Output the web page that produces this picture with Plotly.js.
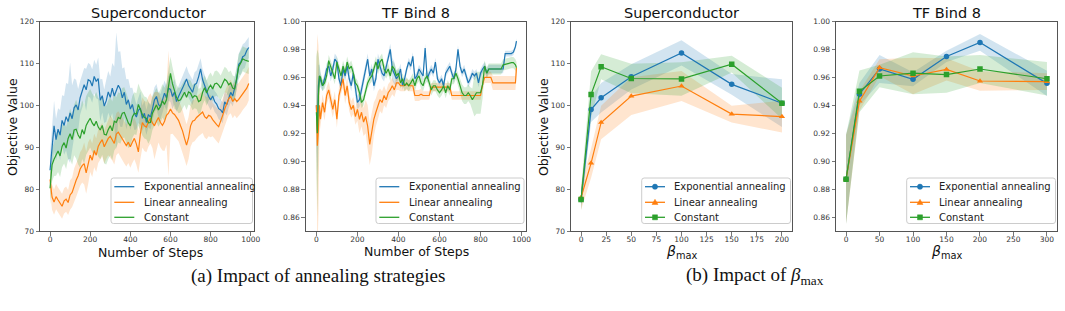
<!DOCTYPE html>
<html>
<head>
<meta charset="utf-8">
<script src="https://cdn.plot.ly/plotly-3.0.1.min.js"></script>
<style>html,body{margin:0;padding:0;background:#fff;}#chart{width:1065px;height:311px;}</style>
</head>
<body>
<div id="chart"></div>
<script>
// ---------- (a) Superconductor vs. steps ----------
const stepsA = [0,10,20,30,40,50,60,70,80,90,100,110,120,130,140,150,160,170,180,190,200,210,220,230,240,250,260,270,280,290,300,310,320,330,340,350,360,370,380,390,400,410,420,430,440,450,460,470,480,490,500,510,520,530,540,550,560,570,580,590,600,610,620,630,640,650,660,670,680,690,700,710,720,730,740,750,760,770,780,790,800,810,820,830,840,850,860,870,880,890,900,910,920,930,940,950,960,970,980,990];
const supExp = [84.5,89.2,95.1,91.8,94.3,92.9,96.4,95.2,97.3,96.1,
 98.2,96.8,99.4,100.1,98.9,101.8,103.2,104.9,103.7,106.1,
 105.8,104.6,106.9,105.7,106.4,101.2,102.3,99.8,101.1,103.2,
 101.9,104.1,102.2,103.4,104.8,103.9,101.8,103.1,100.2,101.3,
 99.1,100.2,98.1,97.2,98.8,99.3,96.9,98.1,95.9,97.8,
 97.2,99.1,101.3,102.1,100.2,99.7,101.2,102.9,101.8,104.1,
 103.8,102.1,103.2,100.9,102.1,103.3,104.1,105.2,106.3,104.8,
 103.9,103.1,104.9,105.3,106.8,108.7,106.1,104.8,103.2,102.1,
 101.3,102.2,100.9,100.3,99.2,98.9,98.2,100.8,100.1,101.9,
 103.1,102.2,104.1,106.2,109.8,110.3,111.6,111.9,113.1,113.8];
const supExpStd = [4,5,6,5,5,6,6,7,8,9,
 12,8,7,6,5,4,4,4,5,4,
 4,4,4,4,5,5,4,4,5,5,
 5,6,7,14,8,9,7,6,6,5,
 5,4,4,3,3,4,3,3,3,3,
 3,3,3,3,3,3,3,3,3,3,
 3,3,3,2.5,2.5,2.5,2.5,3,3,3,
 3,3,3,3,3,2.5,2.5,2.5,2.5,2.5,
 2.5,2.5,2.5,2.5,2.5,2.5,2.5,2.5,2.5,2.5,
 2.5,2.5,2.5,2.5,2.5,3,3,3,2.5,2.5];
const supLin = [82.3,78.1,76.9,78.2,77.4,76.6,75.9,77.2,77.6,76.8,
 78.6,79.2,80.9,82.1,83.2,84.8,85.6,86.1,83.9,86.2,
 88.1,86.9,89.2,88.1,90.2,91.1,91.8,90.1,91.2,92.1,
 92.6,91.8,90.9,93.1,93.6,92.8,91.9,91.1,90.4,91.2,
 90.1,91.2,92.1,90.8,88.9,93.2,95.9,95.1,94.8,96.1,
 96.9,95.8,95.1,96.2,97.1,95.9,95.2,96.1,97.6,98.1,
 99.1,98.2,97.8,97.1,96.4,95.1,93.9,92.1,90.5,92.2,
 95.1,96.2,96.4,97.1,97.6,98.1,98.4,97.3,96.9,97.6,
 97.4,96.6,95.9,95.4,94.9,96.1,97.6,99.1,100.4,101.6,
 102.1,100.9,101.6,100.9,101.4,102.1,102.9,103.6,104.1,105.2];
const supLinStd = [3,3,3,3,3,3,3,3,3,3,
 3.5,3.5,4,4,4,4,4,5,5,5,
 4,4,4,4,4,4,4,4,4,4,
 5,5,5,5,5,5,5,5,5,5,
 5,5,5,5,5,6,6,6,6,6,
 6,6,8,7,6,6,6,7,7,15,
 6,5,5,5,5,5,5,5,5,5,
 5,5,5,5,5,5,5,5,5,5,
 5,4,4,4,4,4,4,4,4,4,
 4,4,4,4,4,4,4,4,4,4];
const supCon = [80.2,85.8,87.1,88.2,89.1,87.9,90.2,91.1,89.8,92.1,
 93.2,91.8,94.1,94.3,92.9,92.1,94.2,93.1,95.2,96.1,
 96.9,95.8,95.1,96.2,94.8,94.1,95.2,93.1,92.9,94.2,
 95.1,93.9,96.2,95.9,97.1,96.8,98.1,98.3,96.9,95.8,
 95.1,97.2,98.1,97.9,100.2,98.9,97.8,97.1,96.9,95.8,
 95.9,98.1,99.2,100.1,98.9,99.8,101.1,100.2,101.3,104.2,
 107.6,105.1,103.2,101.9,101.1,101.3,102.2,103.1,101.9,103.2,
 102.9,101.8,102.3,102.1,100.9,101.2,103.1,104.2,102.9,104.1,
 104.8,103.9,105.1,105.3,104.8,104.1,105.2,106.2,105.8,104.9,
 105.3,104.1,103.9,107.1,109.2,110.1,111.1,110.8,110.6,110.5];
const supConStd = [4,4,4,5,5,5,5,5,5,5,
 6,6,6,7,7,7,7,7,7,7,
 7,7,7,7,7,7,7,7,7,7,
 7,7,7,6,6,6,6,6,6,6,
 5,5,5,5,5,5,5,5,5,5,
 4,4,4,4,4,4,4,4,4,4,
 4,4,4,3,3,3,3,3,3,3,
 3,3,3,3,3,3,3,3,3,3,
 3,3,3,3,3,3,3,3,3,3,
 3,3,3,3,3,3,3,3,3,3];

// ---------- (a) TF Bind 8 vs. steps ----------
const stepsB = [0,5,10,15,20,30,40,50,60,70,80,90,100,110,120,130,140,150,160,170,180,190,200,210,220,230,240,250,260,270,280,290,300,310,320,330,340,350,360,370,380,390,400,410,420,430,440,450,460,470,480,490,500,510,520,530,540,550,560,570,580,590,600,610,620,630,640,650,660,670,680,690,700,710,720,730,740,750,760,770,780,790,800,810,820,830,840,850,860,870,880,890,900,910,920,930,940,950,960,970,975];
const tfExp = [0.940,0.920,0.954,0.961,
 0.958,0.954,0.959,0.966,0.968,0.961,0.966,0.973,0.971,0.959,
 0.954,0.966,0.961,0.968,0.959,0.954,0.963,0.951,0.942,0.944,
 0.951,0.959,0.966,0.973,0.961,0.966,0.954,0.959,0.973,0.968,
 0.963,0.961,0.968,0.975,0.980,0.966,0.963,0.959,0.961,0.966,
 0.954,0.959,0.966,0.971,0.968,0.975,0.959,0.961,0.966,0.963,
 0.961,0.981,0.959,0.963,0.966,0.963,0.971,0.959,0.956,0.959,
 0.954,0.963,0.966,0.968,0.963,0.959,0.966,0.980,0.968,0.963,
 0.966,0.961,0.956,0.959,0.963,0.961,0.963,0.956,0.963,0.966,
 0.968,0.963,0.966,0.966,0.966,0.966,0.966,0.966,0.966,0.966,
 0.977,0.977,0.977,0.977,0.978,0.982,
 0.986];
const tfExpStd = [0.03,0.03,0.015,0.008,
 0.005,0.004,0.004,0.004,0.004,0.004,0.004,0.004,0.004,0.004,
 0.004,0.004,0.004,0.004,0.004,0.004,0.004,0.005,0.005,0.005,
 0.004,0.004,0.004,0.004,0.004,0.004,0.004,0.004,0.004,0.004,
 0.004,0.004,0.004,0.004,0.004,0.008,0.008,0.006,0.004,0.004,
 0.003,0.003,0.003,0.003,0.003,0.003,0.003,0.003,0.003,0.003,
 0.003,0.003,0.003,0.003,0.003,0.003,0.003,0.003,0.003,0.003,
 0.003,0.003,0.003,0.003,0.003,0.003,0.003,0.003,0.003,0.003,
 0.003,0.003,0.003,0.003,0.003,0.003,0.003,0.003,0.003,0.003,
 0.003,0.003,0.003,0.003,0.003,0.003,0.003,0.003,0.003,0.003,
 0.002,0.002,0.002,0.002,0.002,0.002,
 0.002];
const tfLin = [0.940,0.911,0.923,0.940,
 0.930,0.942,0.935,0.947,0.951,0.944,0.937,0.944,0.930,0.947,
 0.954,0.959,0.947,0.954,0.942,0.937,0.940,0.932,0.937,0.930,
 0.935,0.928,0.932,0.925,0.912,0.920,0.930,0.935,0.940,0.944,
 0.942,0.947,0.944,0.949,0.951,0.954,0.951,0.956,0.956,0.954,
 0.954,0.954,0.955,0.954,0.954,0.954,0.947,0.947,0.947,0.948,
 0.947,0.947,0.947,0.947,0.953,0.953,0.953,0.953,0.953,0.953,
 0.953,0.953,0.953,0.953,0.947,0.947,0.947,0.947,0.947,0.947,
 0.947,0.947,0.947,0.947,0.947,0.947,0.947,0.947,0.947,0.955,
 0.960,0.960,0.960,0.960,0.956,0.956,0.956,0.956,0.956,0.956,
 0.956,0.956,0.956,0.956,0.956,0.956,
 0.967];
const tfLinStd = [0.03,0.08,0.06,0.02,
 0.006,0.006,0.006,0.006,0.006,0.006,0.006,0.006,0.006,0.006,
 0.006,0.006,0.006,0.006,0.006,0.006,0.006,0.006,0.008,0.010,
 0.010,0.010,0.012,0.015,0.015,0.015,0.012,0.010,0.010,0.008,
 0.008,0.007,0.006,0.006,0.006,0.006,0.005,0.005,0.005,0.004,
 0.004,0.004,0.004,0.004,0.004,0.004,0.004,0.004,0.004,0.004,
 0.003,0.003,0.003,0.003,0.003,0.003,0.003,0.003,0.003,0.003,
 0.003,0.003,0.003,0.003,0.003,0.003,0.003,0.003,0.003,0.003,
 0.003,0.003,0.003,0.003,0.003,0.003,0.003,0.003,0.003,0.003,
 0.004,0.004,0.004,0.004,0.005,0.005,0.005,0.005,0.005,0.005,
 0.005,0.005,0.005,0.005,0.005,0.005,
 0.005];
const tfCon = [0.935,0.920,0.947,0.961,
 0.960,0.954,0.956,0.961,0.972,0.968,0.963,0.959,0.971,0.966,
 0.961,0.968,0.963,0.971,0.966,0.968,0.963,0.956,0.954,0.949,
 0.942,0.944,0.951,0.956,0.959,0.961,0.966,0.971,0.966,0.971,
 0.973,0.966,0.963,0.966,0.961,0.968,0.966,0.961,0.963,0.956,
 0.959,0.954,0.956,0.954,0.956,0.959,0.954,0.959,0.961,0.956,
 0.954,0.959,0.961,0.956,0.951,0.954,0.954,0.951,0.949,0.951,
 0.954,0.949,0.954,0.951,0.959,0.959,0.963,0.959,0.954,0.949,
 0.947,0.947,0.949,0.947,0.944,0.947,0.949,0.949,0.949,0.955,
 0.968,0.963,0.966,0.966,0.966,0.966,0.966,0.966,0.966,0.969,
 0.9695,0.970,0.970,0.9705,0.9705,0.969,
 0.967];
const tfConStd = [0.04,0.06,0.03,0.01,
 0.004,0.004,0.004,0.004,0.004,0.004,0.004,0.004,0.004,0.004,
 0.004,0.004,0.004,0.004,0.004,0.004,0.004,0.004,0.004,0.004,
 0.004,0.004,0.004,0.004,0.004,0.004,0.004,0.004,0.004,0.004,
 0.004,0.004,0.004,0.004,0.004,0.004,0.004,0.004,0.004,0.004,
 0.004,0.004,0.004,0.004,0.004,0.004,0.004,0.004,0.004,0.004,
 0.004,0.004,0.004,0.004,0.004,0.004,0.004,0.004,0.004,0.004,
 0.004,0.004,0.004,0.004,0.004,0.004,0.004,0.004,0.005,0.006,
 0.006,0.006,0.006,0.006,0.008,0.015,0.015,0.015,0.015,0.010,
 0.004,0.004,0.004,0.004,0.004,0.004,0.004,0.004,0.004,0.004,
 0.004,0.004,0.004,0.004,0.004,0.004,
 0.004];

// ---------- (b) Superconductor vs. beta_max ----------
const betaSup = [0,10,20,50,100,150,200];
const supExpB = [77.5,99.0,101.8,106.8,112.5,105.0,100.5];
const supExpBStd = [2.5,3.0,3.5,3.0,3.0,2.5,5.7];
const supLinB = [78.0,86.2,95.9,102.2,104.6,97.9,97.3];
const supLinBStd = [3.0,3.5,4.0,4.5,3.6,2.0,3.8];
const supConB = [77.5,102.6,109.2,106.4,106.3,109.8,100.5];
const supConBStd = [2.5,5.5,3.0,3.5,4.0,2.0,3.7];

// ---------- (b) TF Bind 8 vs. beta_max ----------
const betaTf = [0,20,50,100,150,200,300];
const tfExpB = [0.887,0.948,0.966,0.9586,0.975,0.985,0.9557];
const tfExpBStd = [0.032,0.008,0.010,0.005,0.004,0.006,0.009];
const tfLinB = [0.887,0.943,0.967,0.961,0.9657,0.9574,0.957];
const tfLinBStd = [0.032,0.007,0.006,0.013,0.008,0.007,0.006];
const tfConB = [0.887,0.950,0.961,0.963,0.962,0.966,0.959];
const tfConBStd = [0.032,0.015,0.008,0.015,0.013,0.010,0.012];

const seriesNames = ['Exponential annealing','Linear annealing','Constant'];
const colors = ['#1f77b4','#ff7f0e','#2ca02c'];
const fills = ['rgba(31,119,180,0.2)','rgba(255,127,14,0.2)','rgba(44,160,44,0.2)'];
const symbols = ['circle','triangle-up','square'];

const W = 1065, H = 311;
const px = v => v / W;
const py = v => 1 - v / H;

function band(x, m, s, k, xa, ya) {
  const up = m.map((v, i) => v + s[i]);
  const lo = m.map((v, i) => v - s[i]);
  return {type:'scatter', mode:'lines', x: x.concat(x.slice().reverse()),
    y: up.concat(lo.slice().reverse()), fill:'toself', fillcolor: fills[k],
    line:{width:0, color:'rgba(0,0,0,0)'}, hoverinfo:'skip', showlegend:false,
    xaxis: xa, yaxis: ya};
}
function line(x, m, k, xa, ya, markers) {
  const t = {type:'scatter', mode: markers ? 'lines+markers' : 'lines', x: x, y: m,
    name: seriesNames[k], line:{color: colors[k], width: 1.2}, xaxis: xa, yaxis: ya,
    showlegend: false};
  if (markers) t.marker = {symbol: symbols[k], size: 5.5, color: colors[k]};
  return t;
}

const panels = [
  {x: stepsA, m:[supExp,supLin,supCon], s:[supExpStd,supLinStd,supConStd], xa:'x', ya:'y', mk:false},
  {x: stepsB, m:[tfExp,tfLin,tfCon], s:[tfExpStd,tfLinStd,tfConStd], xa:'x2', ya:'y2', mk:false},
  {x: betaSup, m:[supExpB,supLinB,supConB], s:[supExpBStd,supLinBStd,supConBStd], xa:'x3', ya:'y3', mk:true},
  {x: betaTf, m:[tfExpB,tfLinB,tfConB], s:[tfExpBStd,tfLinBStd,tfConBStd], xa:'x4', ya:'y4', mk:true}
];
const data = [];
panels.forEach(p => {
  for (let k = 0; k < 3; k++) data.push(band(p.x, p.m[k], p.s[k], k, p.xa, p.ya));
  for (let k = 0; k < 3; k++) data.push(line(p.x, p.m[k], k, p.xa, p.ya, p.mk));
});

const tickFont = {family:'DejaVu Sans, sans-serif', size:7.5, color:'#333'};
function xax(l, r, range, dtick, anchor) {
  return {domain:[px(l), px(r)], range: range, dtick: dtick, tick0: 0, anchor: anchor,
    showline:true, mirror:true, linecolor:'#555', linewidth:1, ticks:'outside', ticklen:3.5,
    tickwidth:0.8, tickcolor:'#555', showgrid:false, zeroline:false, tickfont: tickFont,
    ticklabelstandoff:-3, fixedrange:true};
}
function yax(range, tickvals, fmt, anchor) {
  return {domain:[py(231), py(21.5)], range: range, tickvals: tickvals, tickformat: fmt, anchor: anchor,
    showline:true, mirror:true, linecolor:'#555', linewidth:1, ticks:'outside', ticklen:3.5,
    tickwidth:0.8, tickcolor:'#555', showgrid:false, zeroline:false, tickfont: tickFont, fixedrange:true};
}
const supTicks = [70,80,90,100,110,120];
const tfTicks = [0.86,0.88,0.90,0.92,0.94,0.96,0.98,1.00];

// ---------- hand-drawn matplotlib-style legends ----------
const shapes = [];
const annotations = [];
const legFont = {family:'DejaVu Sans, sans-serif', size:10, color:'#222'};
const rows = [186.7, 202.3, 217.3];
function roundRect(l, t, r, b, rad) {
  const X = v => px(v).toFixed(5), Y = v => py(v).toFixed(5);
  return 'M' + X(l + rad) + ',' + Y(t) + ' L' + X(r - rad) + ',' + Y(t) +
    ' Q' + X(r) + ',' + Y(t) + ' ' + X(r) + ',' + Y(t + rad) +
    ' L' + X(r) + ',' + Y(b - rad) + ' Q' + X(r) + ',' + Y(b) + ' ' + X(r - rad) + ',' + Y(b) +
    ' L' + X(l + rad) + ',' + Y(b) + ' Q' + X(l) + ',' + Y(b) + ' ' + X(l) + ',' + Y(b - rad) +
    ' L' + X(l) + ',' + Y(t + rad) + ' Q' + X(l) + ',' + Y(t) + ' ' + X(l + rad) + ',' + Y(t) + ' Z';
}
function addLegend(L, R, markers) {
  shapes.push({type:'path', xref:'paper', yref:'paper', path: roundRect(L, 178, R, 223.5, 2.5),
    fillcolor:'rgba(255,255,255,0.8)', line:{color:'#cccccc', width:1}, layer:'above'});
  for (let k = 0; k < 3; k++) {
    const y = rows[k];
    shapes.push({type:'line', xref:'paper', yref:'paper', x0:px(L + 3.3), x1:px(L + 23.3),
      y0:py(y), y1:py(y), line:{color: colors[k], width:1.3}, layer:'above'});
    if (markers) {
      const cx = L + 13.3, r = 2.6;
      if (k === 0) {
        shapes.push({type:'circle', xref:'paper', yref:'paper', x0:px(cx - r), x1:px(cx + r),
          y0:py(y + r), y1:py(y - r), fillcolor: colors[k], line:{color: colors[k], width:0.5}, layer:'above'});
      } else if (k === 1) {
        const p = 'M' + px(cx).toFixed(5) + ',' + py(y - 3).toFixed(5) +
          ' L' + px(cx - 3).toFixed(5) + ',' + py(y + 2.2).toFixed(5) +
          ' L' + px(cx + 3).toFixed(5) + ',' + py(y + 2.2).toFixed(5) + ' Z';
        shapes.push({type:'path', xref:'paper', yref:'paper', path:p, fillcolor: colors[k],
          line:{color: colors[k], width:0.5}, layer:'above'});
      } else {
        shapes.push({type:'rect', xref:'paper', yref:'paper', x0:px(cx - 2.5), x1:px(cx + 2.5),
          y0:py(y + 2.5), y1:py(y - 2.5), fillcolor: colors[k], line:{color: colors[k], width:0.5}, layer:'above'});
      }
    }
    annotations.push({text: seriesNames[k], x: px(L + 30.5), y: py(y), xref:'paper', yref:'paper',
      showarrow:false, xanchor:'left', yanchor:'middle', font: legFont});
  }
}
addLegend(111, 252.5, false);
addLegend(376, 524, false);
addLegend(641.7, 790.5, true);
addLegend(906.7, 1055.5, true);

const titleFont = {family:'DejaVu Sans, sans-serif', size:14.5, color:'#111'};
const labFont = {family:'DejaVu Sans, sans-serif', size:12.5, color:'#111'};
const capFont = {family:'Liberation Serif, Times New Roman, serif', size:19, color:'#111'};
function ann(text, x, y, font, angle) {
  return {text: text, x: px(x), y: py(y), xref:'paper', yref:'paper', showarrow:false,
    xanchor:'center', yanchor:'middle', font: font, textangle: angle || 0};
}
annotations.push(
  ann('Superconductor', 148, 13, titleFont),
  ann('TF Bind 8', 415, 13, titleFont),
  ann('Superconductor', 681, 13, titleFont),
  ann('TF Bind 8', 946.5, 13, titleFont),
  ann('Objective Value', 12, 127, labFont, -90),
  ann('Objective Value', 543, 127, labFont, -90),
  ann('Number of Steps', 150, 252, labFont),
  ann('Number of Steps', 416, 251.5, labFont),
  ann('<i>β</i><sub>max</sub>', 681, 252, {family:'DejaVu Sans, sans-serif', size:14, color:'#111'}),
  ann('<i>β</i><sub>max</sub>', 946, 252, {family:'DejaVu Sans, sans-serif', size:14, color:'#111'}),
  ann('(a) Impact of annealing strategies', 318, 276, capFont),
  ann('(b) Impact of <i>β</i><sub>max</sub>', 755, 276, capFont)
);

const layout = {
  width: W, height: H, margin:{l:0, r:0, t:0, b:0}, paper_bgcolor:'#fff', plot_bgcolor:'#fff',
  showlegend:false,
  xaxis: xax(40, 254, [-50, 1016], 200, 'y'),
  yaxis: yax([70, 120], supTicks, '', 'x'),
  xaxis2: xax(305.7, 525.5, [-52, 1019], 200, 'y2'),
  yaxis2: yax([0.85, 1.0], tfTicks, '.2f', 'x2'),
  xaxis3: xax(571, 792, [-10, 210], 25, 'y3'),
  yaxis3: yax([70, 120], supTicks, '', 'x3'),
  xaxis4: xax(836, 1057, [-15, 315], 50, 'y4'),
  yaxis4: yax([0.85, 1.0], tfTicks, '.2f', 'x4'),
  shapes: shapes,
  annotations: annotations
};

Plotly.newPlot('chart', data, layout, {displayModeBar:false, staticPlot:true});
</script>
</body>
</html>
